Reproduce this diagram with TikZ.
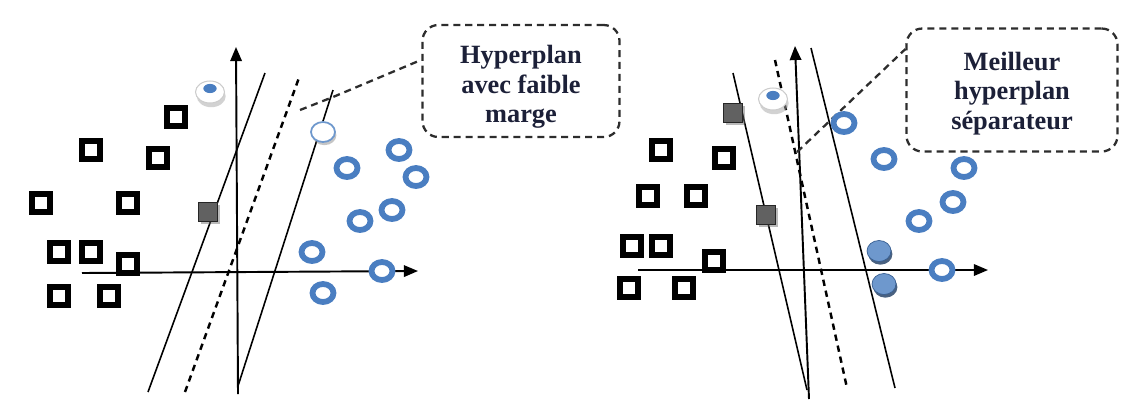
\documentclass[tikz,border=0pt]{standalone}
\usepackage{fontspec}
\setmainfont{Liberation Serif}
\usetikzlibrary{arrows.meta,shapes.geometric,shadows}
\definecolor{ptblue}{RGB}{74,126,193}
\definecolor{txt}{RGB}{28,32,56}
\definecolor{boxline}{RGB}{45,45,45}
\tikzset{
  sq/.style={rectangle,draw=black,fill=white,line width=2.9pt,minimum size=0.36cm,inner sep=0pt},
  gsq/.style={rectangle,draw=black!85,line width=0.8pt,fill=black!62,minimum size=0.38cm,inner sep=0pt,
    drop shadow={shadow xshift=1.2pt,shadow yshift=-1.5pt,opacity=0.45,fill=black!60}},
  ring/.style={ellipse,draw=ptblue,fill=white,line width=3.3pt,minimum width=0.42cm,minimum height=0.36cm,inner sep=0pt},
  bdisk/.style={ellipse,fill=ptblue!80,draw=ptblue!75!black,line width=0.4pt,minimum width=0.48cm,minimum height=0.42cm,inner sep=0pt,
    drop shadow={shadow xshift=0.8pt,shadow yshift=-1.8pt,opacity=0.85,fill=ptblue!55!black}},
  wdisk/.style={ellipse,fill=white,draw=ptblue!80,line width=1pt,minimum width=0.48cm,minimum height=0.4cm,inner sep=0pt,
    drop shadow={shadow xshift=0.8pt,shadow yshift=-1.8pt,opacity=0.5,fill=black!45}},
  coin/.style={ellipse,fill=white,draw=black!20,line width=0.6pt,minimum width=0.58cm,minimum height=0.44cm,inner sep=0pt,
    drop shadow={shadow xshift=0.7pt,shadow yshift=-2.4pt,opacity=0.5,fill=black!35},
    path picture={\fill[ptblue] ([yshift=2pt]path picture bounding box.center) ellipse (3.8pt and 2.6pt);}},
  axis/.style={line width=1.1pt,-{Triangle[length=8pt,width=6.5pt]}},
  hplane/.style={line width=0.9pt},
  hdash/.style={line width=1.4pt,dash pattern=on 3.6pt off 2.8pt},
  calloutline/.style={draw=boxline,line width=1.3pt,dash pattern=on 4pt off 2.8pt},
  calloutbox/.style={draw=boxline,fill=white,line width=1.3pt,dash pattern=on 4pt off 2.8pt,rounded corners=9pt,
    align=center,font=\bfseries\fontsize{15}{17}\selectfont,text=txt,inner sep=0pt}
}
\begin{document}
\begin{tikzpicture}[x=0.02cm,y=-0.02cm]
\useasboundingbox (0,0) rectangle (1126,417);
% ---------- left panel ----------
\coordinate (lvb) at (238,394);
\coordinate (lvt) at (236,47);
\coordinate (lhb) at (82,273);
\coordinate (lht) at (418,271);
\coordinate (l1a) at (148,392);
\coordinate (l1b) at (265,73);
\coordinate (l2a) at (185,392);
\coordinate (l2b) at (300,75);
\coordinate (l3a) at (238,386);
\coordinate (l3b) at (333,90);
\coordinate (lc1) at (300,110);
\coordinate (lc2) at (333,97);
\draw[axis] (lvb) -- (lvt);
\draw[axis] (lhb) -- (lht);
\draw[hplane] (l1a) -- (l1b);
\draw[hdash] (l2a) -- (l2b);
\draw[hplane] (l3a) -- (l3b);
\node[calloutbox,minimum width=3.94cm,minimum height=2.24cm] (lbox) at (521,81) {\rule{0pt}{17pt}Hyperplan\\avec faible\\marge};
\draw[calloutline] (lc1) -- (lc2) -- (lbox.168);
\node[sq] (la1) at (176,117) {};
\node[sq] (la2) at (91,150) {};
\node[sq] (la3) at (158,158) {};
\node[sq] (la4) at (41,203) {};
\node[sq] (la5) at (128,203) {};
\node[sq] (la6) at (59,252) {};
\node[sq] (la7) at (91,252) {};
\node[sq] (la8) at (128,264) {};
\node[sq] (la9) at (59,296) {};
\node[sq] (la10) at (109,296) {};
\node[gsq] (lg1) at (208,212) {};
\node[coin] (lcoin) at (210,92) {};
\node[wdisk] (lw1) at (323,132) {};
\node[ring] (lb1) at (399,150) {};
\node[ring] (lb2) at (347,168) {};
\node[ring] (lb3) at (416,177) {};
\node[ring] (lb4) at (392,210) {};
\node[ring] (lb5) at (360,221) {};
\node[ring] (lb6) at (312,252) {};
\node[ring] (lb7) at (382,271) {};
\node[ring] (lb8) at (323,293) {};
% ---------- right panel ----------
\coordinate (rvb) at (809,399);
\coordinate (rvt) at (795,46);
\coordinate (rhb) at (638,270);
\coordinate (rht) at (988,270);
\coordinate (r1a) at (733,73);
\coordinate (r1b) at (807,390);
\coordinate (r2a) at (775,60);
\coordinate (r2b) at (847,388);
\coordinate (r3a) at (811,48);
\coordinate (r3b) at (895,388);
\coordinate (rc1) at (797,152);
\draw[axis] (rvb) -- (rvt);
\draw[axis] (rhb) -- (rht);
\draw[hplane] (r1a) -- (r1b);
\draw[hdash] (r2a) -- (r2b);
\draw[hplane] (r3a) -- (r3b);
\node[calloutbox,minimum width=4.22cm,minimum height=2.46cm] (rbox) at (1012,90) {\rule{0pt}{14.5pt}Meilleur\\hyperplan\\séparateur};
\draw[calloutline] (rc1) -- (rbox.159);
\node[sq] (ra1) at (661,150) {};
\node[sq] (ra2) at (724,158) {};
\node[sq] (ra3) at (648,196) {};
\node[sq] (ra4) at (696,196) {};
\node[sq] (ra5) at (632,246) {};
\node[sq] (ra6) at (661,246) {};
\node[sq] (ra7) at (714,261) {};
\node[sq] (ra8) at (629,288) {};
\node[sq] (ra9) at (684,288) {};
\node[gsq] (rg1) at (733,113) {};
\node[gsq] (rg2) at (766,215) {};
\node[coin] (rcoin) at (773,99) {};
\node[ring] (rb1) at (844,123) {};
\node[ring] (rb2) at (884,159) {};
\node[ring] (rb3) at (964,168) {};
\node[ring] (rb4) at (953,202) {};
\node[ring] (rb5) at (919,221) {};
\node[ring] (rb6) at (942,270) {};
\node[bdisk] (rd1) at (879,251) {};
\node[bdisk] (rd2) at (884,284) {};
\end{tikzpicture}
\end{document}
